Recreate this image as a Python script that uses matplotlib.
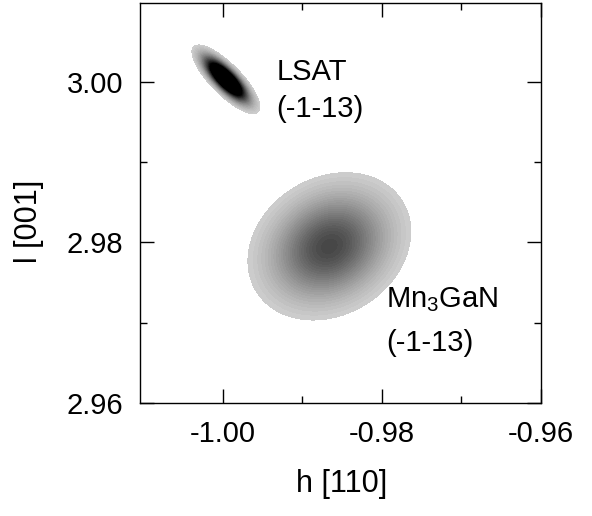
import numpy as np
import matplotlib
matplotlib.use("Agg")
import matplotlib.pyplot as plt
from matplotlib.colors import LinearSegmentedColormap, Normalize
from matplotlib.ticker import FormatStrFormatter

plt.rcParams["font.family"] = ["Liberation Sans", "DejaVu Sans"]
plt.rcParams["mathtext.default"] = "regular"
plt.rcParams["axes.unicode_minus"] = False

# reciprocal space map: two reflections around (-1 -1 3)
peak_names = ["LSAT", "Mn$_3$GaN"]
peak_h = [-0.9996, -0.9866]
peak_l = [3.0003, 2.9795]
peak_sig_h = [0.00165, 0.0048]
peak_sig_l = [0.00165, 0.0043]
peak_rho = [-0.80, 0.20]
peak_amp = [2.0, 0.68]
peak_hkl = ["(-1-13)", "(-1-13)"]

h_lim = (-1.0104, -0.96)
l_lim = (2.96, 3.0098)
h_major = [-1.00, -0.98, -0.96]
h_minor = [-0.99, -0.97]
l_major = [2.96, 2.98, 3.00]
l_minor = [2.97, 2.99]

FS = 21

fig = plt.figure(figsize=(5.92, 5.16), dpi=100)
ax = fig.add_axes([0.2365, 0.219, 0.6774, 0.7752])

hh, ll = np.meshgrid(np.linspace(*h_lim, 500), np.linspace(*l_lim, 500))
inten = np.zeros_like(hh)
for h0, l0, sh, sl, r, a in zip(peak_h, peak_l, peak_sig_h, peak_sig_l,
                                peak_rho, peak_amp):
    u = (hh - h0) / sh
    v = (ll - l0) / sl
    q = (u * u - 2 * r * u * v + v * v) / (1 - r * r)
    inten += a * np.exp(-0.5 * q)

thr = 0.07
cmap = LinearSegmentedColormap.from_list("ink", ["white", "black"])
ax.contourf(hh, ll, inten, levels=np.linspace(thr, 1.0, 40), cmap=cmap,
            norm=Normalize(vmin=-0.15, vmax=1.0), extend="max")

# peak labels
ax.text(-0.99325, 3.00025, peak_names[0], fontsize=FS, ha="left", va="baseline")
ax.text(-0.99325, 2.99565, peak_hkl[0], fontsize=FS, ha="left", va="baseline")
ax.text(-0.9795, 2.97193, peak_names[1], fontsize=FS, ha="left", va="baseline")
ax.text(-0.9795, 2.96646, peak_hkl[1], fontsize=FS, ha="left", va="baseline")

ax.set_xlim(*h_lim)
ax.set_ylim(*l_lim)
ax.set_xticks(h_major)
ax.set_xticks(h_minor, minor=True)
ax.set_yticks(l_major)
ax.set_yticks(l_minor, minor=True)
ax.xaxis.set_major_formatter(FormatStrFormatter("%.2f"))
ax.yaxis.set_major_formatter(FormatStrFormatter("%.2f"))
ax.tick_params(which="both", direction="in", top=True, right=True,
               labelsize=FS, pad=12, width=1.0)
ax.tick_params(which="major", length=10)
ax.tick_params(which="minor", length=5)
for s in ax.spines.values():
    s.set_linewidth(1.0)

ax.set_xlabel("h [110]", fontsize=22)
ax.set_ylabel("l [001]", fontsize=22)
ax.xaxis.set_label_coords(0.502, -0.165)
ax.yaxis.set_label_coords(-0.24, 0.455)

fig.savefig("out.png", dpi=100, facecolor="white")
